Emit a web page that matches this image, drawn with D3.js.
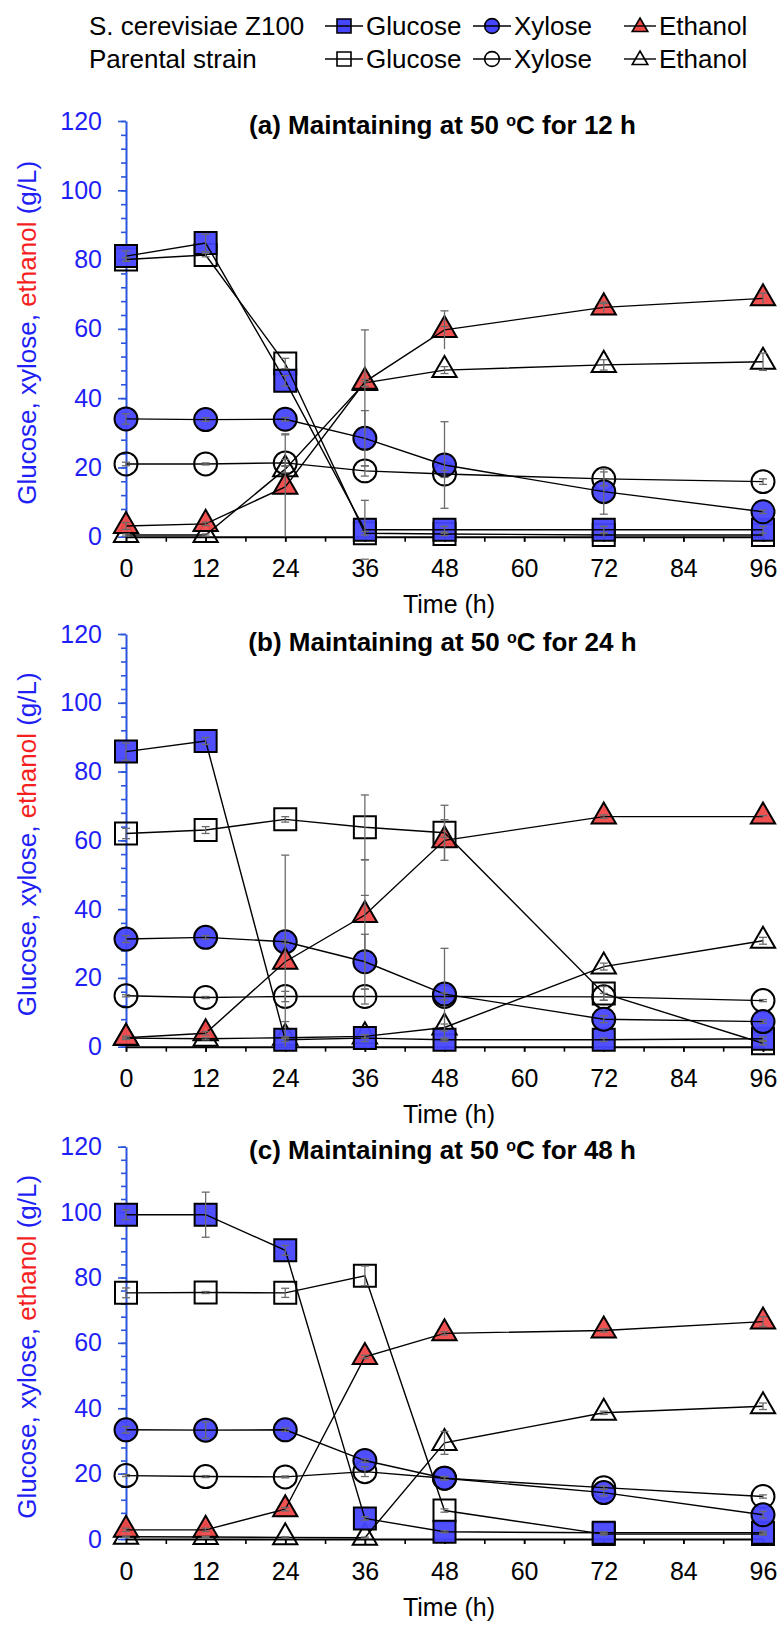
<!DOCTYPE html>
<html>
<head>
<meta charset="utf-8">
<script src="https://cdn.jsdelivr.net/npm/d3@7"></script>
<style>
  body { margin: 0; background: #fff; }
  text { font-family: "Liberation Sans", Arial, sans-serif; }
</style>
</head>
<body>
<svg id="chart" width="779" height="1644"></svg>
<script>
'use strict';

// sampling times (h)
var hours = [0, 12, 24, 36, 48, 72, 96];
var xTicks = [0, 12, 24, 36, 48, 60, 72, 84, 96];
var yTicks = [0, 20, 40, 60, 80, 100, 120];
var panelLabels = ["(a) Maintaining at 50 ", "(b) Maintaining at 50 ", "(c) Maintaining at 50 "];
var panelTails = ["C for 12 h", "C for 24 h", "C for 48 h"];

// (a) 12 h at 50 oC  -- Z = S. cerevisiae Z100, P = parental strain
var aGluZ = [81, 84.8, 45, 2, 2, 2, 2];
var aGluP = [80, 81.3, 50, 1, 0.8, 0.5, 0.5];
var aXylZ = [34, 33.8, 33.9, 28.4, 20.7, 13, 7.2];
var aXylP = [21, 21, 21.3, 19, 18.1, 16.7, 15.9];
var aEthZ = [3.1, 3.7, 14.4, 44.7, 59.7, 66.2, 68.8];
var aEthP = [0.5, 0.5, 19.5, 44.4, 48.1, 49.6, 50.5];
var aGluZErr = [1.5, 2.5, 1.5, 8.5, 1, 1, 1];
var aGluPErr = [0.5, 0.5, 1.5, 0.5, 0.5, 0.5, 0.5];
var aXylZErr = [1.5, 0.5, 0.5, 8, 12.5, 6.5, 0.5];
var aXylPErr = [0.5, 0.3, 1, 1.5, 1, 2, 0.8];
var aEthZErr = [1, 0.5, 15.3, 15, 5.5, 1.5, 1.5];
var aEthPErr = [0.3, 0.3, 1, 1, 1, 1.5, 2.5];

// (b) 24 h at 50 oC
var bGluZ = [85.8, 88.9, 2, 2.5, 2, 2, 2.3];
var bGluP = [62, 63, 66.1, 63.8, 62.2, 15.5, 1];
var bXylZ = [31.3, 31.8, 30.5, 24.7, 15.3, 8, 7.3];
var bXylP = [14.8, 14.3, 14.6, 14.6, 14.6, 14.5, 13.4];
var bEthZ = [2.6, 3.9, 24.7, 38.3, 60, 66.9, 66.9];
var bEthP = [2.5, 2.3, 2.6, 3, 5.6, 23.3, 30.8];
var bGluZErr = [2.5, 1, 0.5, 1, 0.5, 0.5, 0.5];
var bGluPErr = [1.5, 1, 0.8, 9.4, 8, 2, 0.5];
var bXylZErr = [1, 0.5, 0.5, 8, 13.3, 1, 0.5];
var bXylPErr = [0.3, 0.3, 1.5, 2.2, 1, 1, 0.3];
var bEthZErr = [0.5, 0.5, 31, 16, 6, 0.5, 0.3];
var bEthPErr = [0.3, 0.3, 0.3, 0.5, 1, 1, 1];

// (c) 48 h at 50 oC
var cGluZ = [99.2, 99.2, 88.3, 6.3, 2.2, 1.9, 1.9];
var cGluP = [75.3, 75.4, 75.3, 80.5, 8.7, 1.5, 1.5];
var cXylZ = [33.4, 33.3, 33.4, 24, 18.6, 14.2, 7.4];
var cXylP = [19.4, 19.1, 19, 20.6, 18.6, 15.7, 13];
var cEthZ = [2.8, 2.8, 9.1, 55.7, 62.9, 63.8, 66.5];
var cEthP = [0.7, 0.6, 0.5, 0.4, 29.4, 38.6, 40.6];
var cGluZErr = [1.5, 6.9, 1.5, 0.5, 0.3, 0.3, 0.5];
var cGluPErr = [1.5, 0.3, 1.4, 3, 0.5, 0.3, 0.3];
var cXylZErr = [1, 2.5, 0.5, 0.5, 0.5, 1, 1];
var cXylPErr = [0.3, 0.3, 0.3, 1.5, 0.5, 0.5, 0.5];
var cEthZErr = [0.5, 0.5, 0.5, 0.5, 0.5, 0.5, 1.5];
var cEthPErr = [0.2, 0.2, 0.2, 0.2, 3.5, 0.5, 1];

var BLUE = "#4646ff", RED = "#f04848", AXIS_BLUE = "#2a55dc", TEXT_BLUE = "#1f1ff5", TEXT_RED = "#f51f1f";

var shapes = {
    glucose: d3.symbol().type(d3.symbolSquare).size(484),
    xylose: d3.symbol().type(d3.symbolCircle).size(415),
    ethanol: d3.symbol().type(d3.symbolTriangle).size(255)
};
var legendShapes = {
    glucose: d3.symbol().type(d3.symbolSquare).size(196),
    xylose: d3.symbol().type(d3.symbolCircle).size(170),
    ethanol: d3.symbol().type(d3.symbolTriangle).size(105)
};
var fills = { glucose: BLUE, xylose: BLUE, ethanol: RED };

function series(kind, strain, values, errors) {
    return { kind: kind, filled: strain === "Z", values: values, errors: errors };
}

// open (parental) first so the filled markers sit on top
var panels = [
    [series("glucose", "P", aGluP, aGluPErr), series("xylose", "P", aXylP, aXylPErr), series("ethanol", "P", aEthP, aEthPErr),
     series("glucose", "Z", aGluZ, aGluZErr), series("xylose", "Z", aXylZ, aXylZErr), series("ethanol", "Z", aEthZ, aEthZErr)],
    [series("glucose", "P", bGluP, bGluPErr), series("xylose", "P", bXylP, bXylPErr), series("ethanol", "P", bEthP, bEthPErr),
     series("glucose", "Z", bGluZ, bGluZErr), series("xylose", "Z", bXylZ, bXylZErr), series("ethanol", "Z", bEthZ, bEthZErr)],
    [series("glucose", "P", cGluP, cGluPErr), series("xylose", "P", cXylP, cXylPErr), series("ethanol", "P", cEthP, cEthPErr),
     series("glucose", "Z", cGluZ, cGluZErr), series("xylose", "Z", cXylZ, cXylZErr), series("ethanol", "Z", cEthZ, cEthZErr)]
];

// layout of the three stacked plots
var plotLeft = 126, plotRight = 763;
var frames = [
    { top: 121, bottom: 536.7, titleY: 125 },
    { top: 634, bottom: 1046.7, titleY: 642 },
    { top: 1146.7, bottom: 1539, titleY: 1150 }
];

var svg = d3.select("#chart");

var x = d3.scaleLinear().domain([0, 96]).range([plotLeft, plotRight]);

frames.forEach(function (f, p) {
    var y = d3.scaleLinear().domain([0, 120]).range([f.bottom, f.top]);
    var g = svg.append("g").attr("class", "panel");

    // y axis (blue), minor ticks every 4 then labelled majors
    g.append("g")
        .attr("transform", "translate(" + plotLeft + ",0)")
        .call(d3.axisLeft(y).tickValues(d3.range(0, 121, 4)).tickSize(5).tickFormat(""))
        .call(function (a) { a.select(".domain").remove(); })
        .selectAll("line").attr("stroke", AXIS_BLUE).attr("stroke-width", 1.6);

    var yAx = g.append("g")
        .attr("transform", "translate(" + plotLeft + ",0)")
        .call(d3.axisLeft(y).tickValues(yTicks).tickSize(8).tickSizeOuter(0).tickPadding(16));
    yAx.select(".domain").attr("stroke", AXIS_BLUE).attr("stroke-width", 2);
    yAx.selectAll("line").attr("stroke", AXIS_BLUE).attr("stroke-width", 1.6);
    yAx.selectAll("text").attr("fill", TEXT_BLUE).style("font-size", "25px");

    // x axis (black)
    g.append("g")
        .attr("transform", "translate(0," + f.bottom + ")")
        .call(d3.axisBottom(x).tickValues(d3.range(0, 97, 6)).tickSize(5).tickFormat(""))
        .call(function (a) { a.select(".domain").remove(); })
        .selectAll("line").attr("stroke", "#000").attr("stroke-width", 1.6);

    var xAx = g.append("g")
        .attr("transform", "translate(0," + f.bottom + ")")
        .call(d3.axisBottom(x).tickValues(xTicks).tickSize(5).tickSizeOuter(0).tickPadding(18));
    xAx.select(".domain").attr("stroke", "#000").attr("stroke-width", 2);
    xAx.selectAll("line").attr("stroke", "#000").attr("stroke-width", 1.6);
    xAx.selectAll("text").attr("fill", "#000").style("font-size", "25px");

    g.append("text")
        .attr("x", 449).attr("y", f.bottom + 68).attr("dy", "0.35em")
        .attr("text-anchor", "middle").style("font-size", "25px")
        .text("Time (h)");

    // y axis title with coloured words
    var yl = g.append("text")
        .attr("transform", "translate(27," + ((f.top + f.bottom) / 2 + 4) + ") rotate(-90)")
        .attr("text-anchor", "middle").attr("dy", "0.35em")
        .style("font-size", "26px");
    yl.append("tspan").attr("fill", TEXT_BLUE).text("Glucose, xylose, ");
    yl.append("tspan").attr("fill", TEXT_RED).text("ethanol");
    yl.append("tspan").attr("fill", TEXT_BLUE).text(" (g/L)");

    // panel title
    var t = g.append("text")
        .attr("x", (plotLeft + plotRight) / 2 - 2).attr("y", f.titleY).attr("dy", "0.35em")
        .attr("text-anchor", "middle")
        .style("font-size", "26px").style("font-weight", "bold");
    t.append("tspan").text(panelLabels[p]);
    t.append("tspan").attr("baseline-shift", "super").style("font-size", "16px").text("o");
    t.append("tspan").text(panelTails[p]);

    var data = panels[p];

    // markers
    data.forEach(function (s) {
        g.append("g").selectAll("path")
            .data(s.values)
            .enter().append("path")
            .attr("transform", function (d, i) { return "translate(" + x(hours[i]) + "," + y(d) + ")"; })
            .attr("d", shapes[s.kind])
            .attr("fill", s.filled ? fills[s.kind] : "none")
            .attr("fill-opacity", s.filled ? 0.95 : 0)
            .attr("stroke", "#000")
            .attr("stroke-width", 2);
    });

    // connecting lines
    var line = d3.line()
        .x(function (d, i) { return x(hours[i]); })
        .y(function (d) { return y(d); });
    data.forEach(function (s) {
        g.append("path")
            .datum(s.values)
            .attr("d", line)
            .attr("fill", "none")
            .attr("stroke", "#000")
            .attr("stroke-width", 1.4);
    });

    // error bars
    data.forEach(function (s) {
        var eb = g.append("g").attr("stroke", "#6b6b6b").attr("stroke-width", 1.3)
            .selectAll("g")
            .data(s.values)
            .enter().append("g");
        eb.append("line")
            .attr("x1", function (d, i) { return x(hours[i]); })
            .attr("x2", function (d, i) { return x(hours[i]); })
            .attr("y1", function (d, i) { return y(Math.max(0, d - s.errors[i])); })
            .attr("y2", function (d, i) { return y(d + s.errors[i]); });
        [1, -1].forEach(function (sign) {
            eb.filter(function (d, i) { return sign > 0 || d - s.errors[i] > 0; })
                .append("line")
                .attr("x1", function (d, i) { return x(hours[i]) - 4; })
                .attr("x2", function (d, i) { return x(hours[i]) + 4; })
                .attr("y1", function (d, i) { return y(d + sign * s.errors[i]); })
                .attr("y2", function (d, i) { return y(d + sign * s.errors[i]); });
        });
    });
});

// legend
var legendRows = [
    { label: "S. cerevisiae Z100", filled: true, y: 26 },
    { label: "Parental strain", filled: false, y: 59 }
];
var legendItems = [
    { kind: "glucose", label: "Glucose", x0: 325, x1: 363 },
    { kind: "xylose", label: "Xylose", x0: 473, x1: 511 },
    { kind: "ethanol", label: "Ethanol", x0: 624, x1: 656 }
];
var legend = svg.append("g").attr("class", "legend");
legendRows.forEach(function (r) {
    legend.append("text")
        .attr("x", 89).attr("y", r.y).attr("dy", "0.35em")
        .style("font-size", "26px").text(r.label);
    var item = legend.selectAll(null).data(legendItems).enter().append("g");
    item.append("path")
        .attr("transform", function (d) { return "translate(" + (d.x0 + d.x1) / 2 + "," + (r.y + (d.kind === "ethanol" ? 1 : 0)) + ")"; })
        .attr("d", function (d) { return legendShapes[d.kind](); })
        .attr("fill", function (d) { return r.filled ? fills[d.kind] : "none"; })
        .attr("stroke", "#000").attr("stroke-width", 1.6);
    item.append("line")
        .attr("x1", function (d) { return d.x0; }).attr("x2", function (d) { return d.x1; })
        .attr("y1", r.y).attr("y2", r.y)
        .attr("stroke", "#000").attr("stroke-width", 1.4);
    item.append("text")
        .attr("x", function (d) { return d.x1 + 3; }).attr("y", r.y).attr("dy", "0.35em")
        .style("font-size", "26px").text(function (d) { return d.label; });
});
</script>
</body>
</html>
